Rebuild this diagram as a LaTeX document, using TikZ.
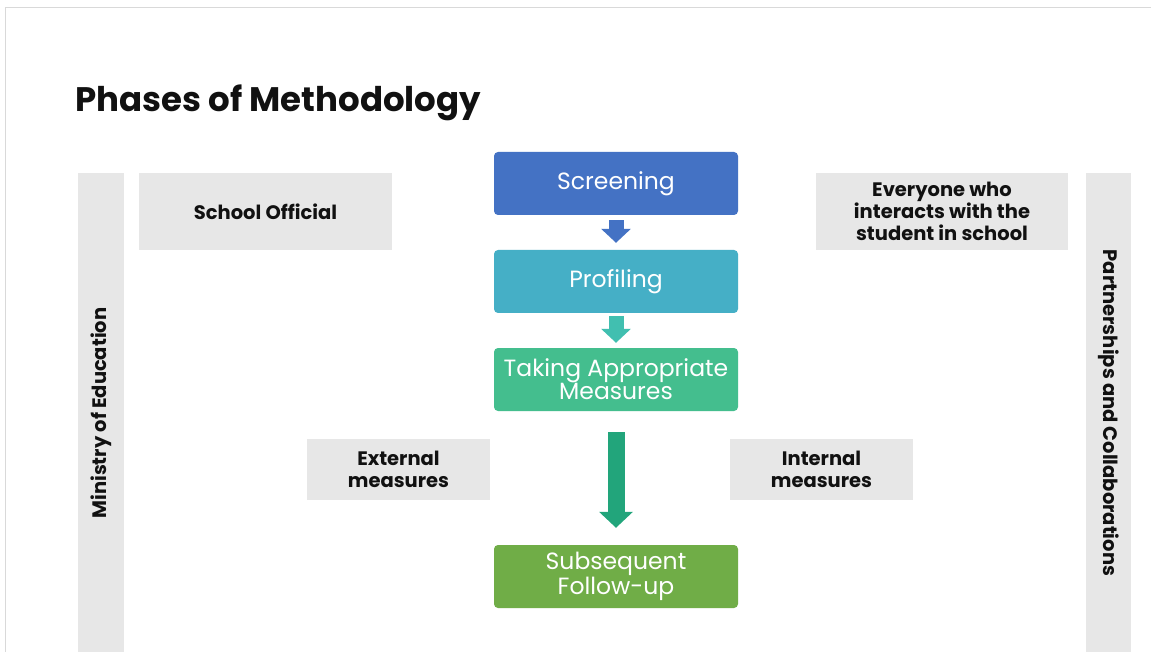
\documentclass[tikz,border=0pt]{standalone}
\usepackage{fontspec}
\setmainfont{Poppins}
\usetikzlibrary{arrows.meta,calc}
\definecolor{cScr}{HTML}{4472C4}
\definecolor{cPro}{HTML}{45AFC6}
\definecolor{cTak}{HTML}{44BE8E}
\definecolor{cSub}{HTML}{70AD47}
\definecolor{cArr2}{HTML}{41BFB0}
\definecolor{cArr3}{HTML}{22A57B}
\definecolor{cGray}{HTML}{E7E7E7}
\definecolor{cFrame}{HTML}{D9D9D9}
\definecolor{cTxt}{HTML}{111111}
\begin{document}
\begin{tikzpicture}[x=1pt,y=-1pt,
  phase/.style={fill=#1,draw=none,rounded corners=4pt,minimum width=244pt,minimum height=63pt,
    text=white,align=center,inner sep=0pt,font=\fontsize{23.5}{23}\selectfont},
  graybox/.style={fill=cGray,draw=none,inner sep=0pt,text=cTxt,align=center,
    font=\bfseries\fontsize{19.5}{22}\selectfont},
  bar/.style={fill=cGray,draw=none,inner sep=0pt,minimum width=46pt,minimum height=479pt},
  bartext/.style={text=cTxt,font=\bfseries\fontsize{19.5}{22}\selectfont,inner sep=0pt},
  blk/.style={draw=#1,line width=15pt,line cap=butt,-{Triangle[length=14pt,width=29pt]}},
]
\useasboundingbox (0,0) rectangle (1151,652);
\fill[white] (0,0) rectangle (1151,652);
\draw[cFrame,line width=1pt] (5,652) -- (5,7.5) -- (1151,7.5);

\node[anchor=base west,inner sep=0pt,text=cTxt,font=\bfseries\fontsize{34}{38}\selectfont] (title) at (75,112) {Phases of Methodology};

\node[bar] (ministry) at (101,412.5) {};
\node[bartext,rotate=90] (mintxt) at (101,413) {Ministry of Education};
\node[bar,minimum width=45pt] (partner) at (1108.5,412.5) {};
\node[bartext,rotate=-90] (partxt) at (1108.5,413) {Partnerships and Collaborations};

\node[graybox,minimum width=253pt,minimum height=77pt] (school) at (265.5,211.5) {School Official};
\node[graybox,minimum width=252pt,minimum height=77pt] (everyone) at (942,211.5) {Everyone who\\interacts with the\\student in school};
\node[graybox,minimum width=183pt,minimum height=61pt] (external) at (398.5,469.5) {External\\measures};
\node[graybox,minimum width=183pt,minimum height=61pt] (internal) at (821.5,469.5) {Internal\\measures};

\node[phase=cScr] (scr) at (616,183.5) {Screening};
\node[phase=cPro] (pro) at (616,281.5) {Profiling};
\node[phase=cTak] (tak) at (616,379.5) {Taking Appropriate\\Measures};
\node[phase=cSub] (sub) at (616,576.5) {Subsequent\\Follow-up};

\draw[blk=cScr,shorten <=5pt,shorten >=7pt] (scr.south) -- (pro.north);
\draw[blk=cArr2,shorten <=3pt,shorten >=5pt] (pro.south) -- (tak.north);
\draw[blk=cArr3,line width=17pt,-{Triangle[length=16pt,width=33pt]},shorten <=21pt,shorten >=17pt] (tak.south) -- (sub.north);
\end{tikzpicture}
\end{document}
